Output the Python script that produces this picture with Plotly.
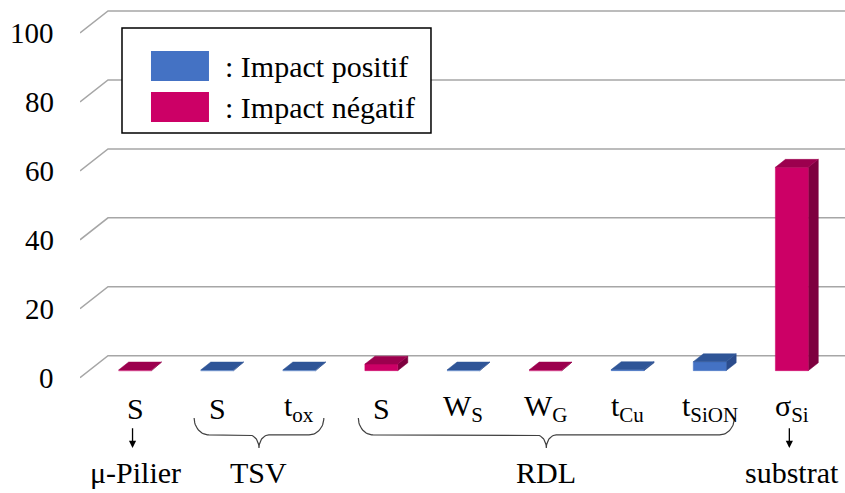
import math
import plotly.graph_objects as go

# ---- data ---------------------------------------------------------------
categories = ["S", "S", "t<sub>ox</sub>", "S", "W<sub>S</sub>", "W<sub>G</sub>",
              "t<sub>Cu</sub>", "t<sub>SiON</sub>", "σ<sub>Si</sub>"]
impact = [0.2, 0.2, 0.2, 1.9, 0.2, 0.2, 0.3, 2.6, 59]
effect = ["neg", "pos", "pos", "neg", "pos", "neg", "pos", "pos", "neg"]
groups = [("μ-Pilier", 0, 0), ("TSV", 1, 2), ("RDL", 3, 7), ("substrat", 8, 8)]
y_ticks = [0, 20, 40, 60, 80, 100]
legend_labels = {"pos": ": Impact positif", "neg": ": Impact négatif"}

# ---- styling --------------------------------------------------------------
FONT = "Liberation Serif"
FACE = {
    "pos": {"front": "#4472C4", "top": "#2F5597", "side": "#2B4C8C"},
    "neg": {"front": "#CC0066", "top": "#9C004E", "side": "#7E003F"},
}
GRID = "#A6A6A6"

X_RANGE = [-0.67, 8.648]
Y_RANGE = [-33.45, 109.57]

# pseudo-3D depth of the back wall (axis units) and bar depth fractions
WALL_DX, WALL_DY = 0.341, 6.38
F0, F1 = 0.32, 0.68
BAR_W = 0.4

fig = go.Figure()

# back-wall gridlines with the diagonal floor/side edge, value labels at the front
for v in y_ticks:
    xs = [X_RANGE[0], X_RANGE[0] + WALL_DX, X_RANGE[1]]
    ys = [v, v + WALL_DY, v + WALL_DY]
    fig.add_trace(go.Scatter(x=xs, y=ys, mode="lines",
                             line=dict(color=GRID, width=1.5),
                             hoverinfo="skip", showlegend=False))
    fig.add_annotation(x=X_RANGE[0], y=v, text=str(v), showarrow=False,
                       xanchor="right", yanchor="middle", xshift=-25,
                       borderpad=0,
                       font=dict(family=FONT, size=29, color="black"))

# 3-D columns: front, top and side faces
ddx, ddy = (F1 - F0) * WALL_DX, (F1 - F0) * WALL_DY
yb = F0 * WALL_DY
for i, (v, e) in enumerate(zip(impact, effect)):
    x0, x1 = i - BAR_W / 2, i + BAR_W / 2
    yt = yb + v
    faces = [
        ("side", [x1, x1 + ddx, x1 + ddx, x1, x1], [yb, yb + ddy, yt + ddy, yt, yb]),
        ("front", [x0, x1, x1, x0, x0], [yb, yb, yt, yt, yb]),
        ("top", [x0, x1, x1 + ddx, x0 + ddx, x0], [yt, yt, yt + ddy, yt + ddy, yt]),
    ]
    for name, xs, ys in faces:
        fig.add_trace(go.Scatter(x=xs, y=ys, mode="lines", fill="toself",
                                 fillcolor=FACE[e][name],
                                 line=dict(color=FACE[e][name], width=0.5),
                                 hoverinfo="skip", showlegend=False))

# category labels under the columns
LABEL_Y = -8.8
for i, c in enumerate(categories):
    fig.add_annotation(x=i, y=LABEL_Y, text=c, showarrow=False,
                       xanchor="center", yanchor="middle",
                       font=dict(family=FONT, size=30, color="black"))

# group labels: braces for multi-item groups, arrows for single items
TOP, MID, TIP = -11.7, -16.6, -20.4
RX, RX2 = 0.18, 0.12
RY2 = MID - TIP
GROUP_Y = -27.6
for name, a, b in groups:
    xc = (a + b) / 2
    if a == b:
        fig.add_annotation(x=a - 0.03, y=-20.4, ax=a - 0.03, ay=-14.2,
                           xref="x", yref="y", axref="x", ayref="y",
                           text="", showarrow=True, arrowhead=2,
                           arrowsize=1.1, arrowwidth=1.3, arrowcolor="black")
    else:
        xl, xr = a - 0.28, b + 0.30
        xc = (xl + xr) / 2
        n = 16
        xs, ys = [], []
        for k in range(n + 1):
            t = math.pi / 2 * k / n
            xs.append(xl + RX * (1 - math.cos(t)))
            ys.append(MID + (TOP - MID) * (1 - math.sin(t)))
        for k in range(n + 1):
            t = math.pi / 2 * k / n
            xs.append(xc - RX2 + RX2 * math.sin(t))
            ys.append(MID - RY2 * (1 - math.cos(t)))
        for k in range(n + 1):
            t = math.pi / 2 * k / n
            xs.append(xc + RX2 - RX2 * math.cos(t))
            ys.append(MID - RY2 * (1 - math.sin(t)))
        for k in range(n + 1):
            t = math.pi / 2 * k / n
            xs.append(xr - RX + RX * math.sin(t))
            ys.append(MID + (TOP - MID) * (1 - math.cos(t)))
        fig.add_trace(go.Scatter(x=xs, y=ys, mode="lines",
                                 line=dict(color="#404040", width=1.2),
                                 hoverinfo="skip", showlegend=False))
    fig.add_annotation(x=xc, y=GROUP_Y, text=name, showarrow=False,
                       xanchor="center", yanchor="middle",
                       font=dict(family=FONT, size=30, color="black"))

# legend box
fig.add_shape(type="rect", xref="paper", yref="paper",
              x0=0.0549, x1=0.4588, y0=0.7302, y1=0.9432,
              fillcolor="white", line=dict(color="black", width=1.5), layer="above")
for k, e in enumerate(["pos", "neg"]):
    y1 = 0.8966 - k * 0.0832
    fig.add_shape(type="rect", xref="paper", yref="paper",
                  x0=0.0928, x1=0.1686, y0=y1 - 0.0609, y1=y1,
                  fillcolor=FACE[e]["front"], line=dict(width=0), layer="above")
    fig.add_annotation(xref="paper", yref="paper", x=0.1869, y=y1 - 0.0305,
                       text=legend_labels[e], showarrow=False,
                       xanchor="left", yanchor="middle",
                       font=dict(family=FONT, size=30, color="black"))

fig.update_layout(
    width=845, height=493,
    margin=dict(l=80, r=0, t=0, b=0),
    paper_bgcolor="white", plot_bgcolor="white",
    showlegend=False,
    font=dict(family=FONT, size=30, color="black"),
    xaxis=dict(range=X_RANGE, visible=False, fixedrange=True),
    yaxis=dict(range=Y_RANGE, showticklabels=False, showgrid=False,
               zeroline=False, showline=False, ticks="", fixedrange=True),
)

fig.write_html("out.html")
